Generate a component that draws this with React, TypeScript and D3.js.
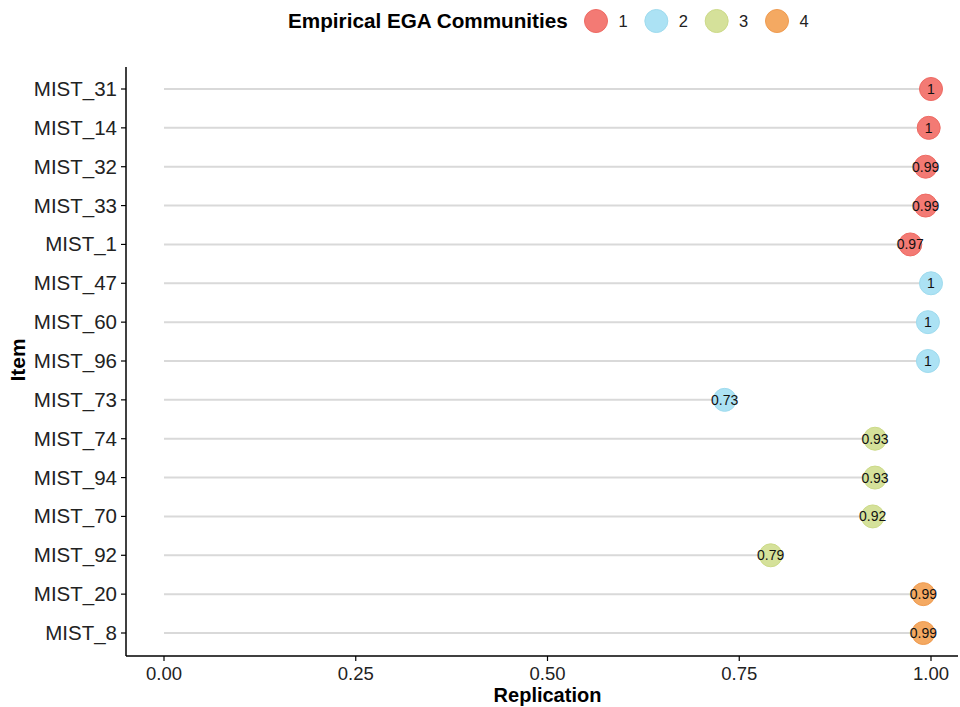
import React from "react";
import * as d3 from "d3";

const items = ["MIST_31","MIST_14","MIST_32","MIST_33","MIST_1","MIST_47","MIST_60","MIST_96","MIST_73","MIST_74","MIST_94","MIST_70","MIST_92","MIST_20","MIST_8"];
const values = [1.0, 0.997, 0.993, 0.993, 0.973, 1.0, 0.996, 0.996, 0.731, 0.927, 0.927, 0.924, 0.791, 0.990, 0.990];
const labels = ["1","1","0.99","0.99","0.97","1","1","1","0.73","0.93","0.93","0.92","0.79","0.99","0.99"];
const communities = [1,1,1,1,1,2,2,2,2,3,3,3,3,4,4];
const legendKeys = [1,2,3,4];
const fillColors = ["#F37A74", "#ACE2F4", "#D5E19A", "#F4A962"];
const strokeColors = ["#EE6A63", "#9FDBEE", "#CCDA88", "#EF9B50"];
const xTicks = [0, 0.25, 0.5, 0.75, 1.0];

const W = 960, H = 707;
const font = "Liberation Sans, Arial, Helvetica, sans-serif";

export default function App() {
  const x = d3.scaleLinear().domain([0, 1]).range([164, 931]);
  const y = d3.scalePoint<string>().domain(items).range([89, 633]);
  const fill = d3.scaleOrdinal<number, string>().domain(legendKeys).range(fillColors);
  const stroke = d3.scaleOrdinal<number, string>().domain(legendKeys).range(strokeColors);
  const axisLeft = 126, axisBottom = 656, axisTop = 67, axisRight = 958;
  const legX = d3.scaleLinear().domain([1, 4]).range([596, 777]);

  return (
    <svg width={W} height={H} style={{ position: "absolute", left: 0, top: 0, background: "#fff" }} fontFamily={font}>
      {/* legend */}
      <text x={288} y={28} fontSize={20.7} fontWeight="bold" fill="#000">Empirical EGA Communities</text>
      {legendKeys.map((k) => (
        <g key={k}>
          <circle cx={legX(k)} cy={21} r={11.5} fill={fill(k)} stroke={stroke(k)} strokeWidth={1} />
          <text x={legX(k) + 27} y={27} fontSize={16.5} textAnchor="middle" fill="#222">{k}</text>
        </g>
      ))}
      {/* segments */}
      {items.map((it, i) => (
        <line key={it} x1={x(0)} x2={x(values[i])} y1={y(it)} y2={y(it)} stroke="#D9D9D9" strokeWidth={2} />
      ))}
      {/* points */}
      {items.map((it, i) => (
        <g key={it}>
          <circle cx={x(values[i])} cy={y(it)} r={11.5} fill={fill(communities[i])} stroke={stroke(communities[i])} strokeWidth={1} />
          <text x={x(values[i])} y={y(it)! + 5} fontSize={14} textAnchor="middle" fill="#111">{labels[i]}</text>
        </g>
      ))}
      {/* axes */}
      <line x1={axisLeft} x2={axisLeft} y1={axisTop} y2={axisBottom} stroke="#000" strokeWidth={1.5} />
      <line x1={axisLeft} x2={axisRight} y1={axisBottom} y2={axisBottom} stroke="#000" strokeWidth={1.5} />
      {items.map((it) => (
        <g key={it}>
          <line x1={axisLeft - 5} x2={axisLeft} y1={y(it)} y2={y(it)} stroke="#000" strokeWidth={1.2} />
          <text x={axisLeft - 9} y={y(it)! + 7} fontSize={20.5} textAnchor="end" fill="#222">{it}</text>
        </g>
      ))}
      {xTicks.map((t) => (
        <g key={t}>
          <line x1={x(t)} x2={x(t)} y1={axisBottom} y2={axisBottom + 5} stroke="#000" strokeWidth={1.2} />
          <text x={x(t)} y={axisBottom + 24} fontSize={18.5} textAnchor="middle" fill="#222">{d3.format(".2f")(t)}</text>
        </g>
      ))}
      <text x={x(0.5)} y={702} fontSize={20} fontWeight="bold" textAnchor="middle" fill="#000">Replication</text>
      <text transform={`translate(25,360) rotate(-90)`} fontSize={21} fontWeight="bold" textAnchor="middle" fill="#000">Item</text>
    </svg>
  );
}
